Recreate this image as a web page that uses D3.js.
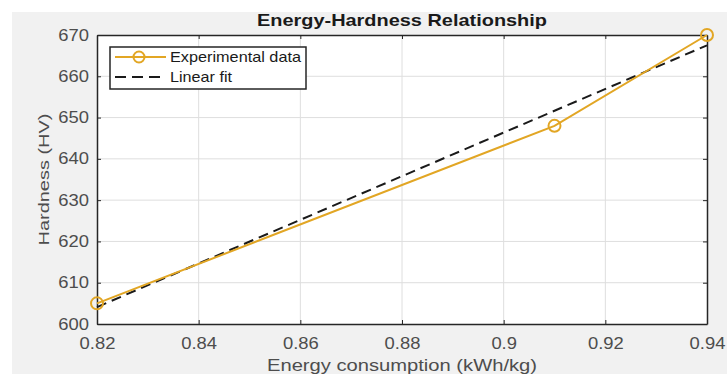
<!DOCTYPE html>
<html>
<head>
<meta charset="utf-8">
<script src="https://cdn.jsdelivr.net/npm/d3@7"></script>
<style>
	body { margin: 0; background: #fff; }
	svg { display: block; font-family: "Liberation Sans", Arial, sans-serif; }
</style>
</head>
<body>
<svg id="chart"></svg>
<script>
// values
const energy = [ 0.82, 0.91, 0.94 ] ;
const hardness = [ 605, 648, 670 ] ;
const fitEnergy = [ 0.82, 0.94 ] ;
const fitHardness = [ 604.1, 667.5 ] ;
const xTicks = [ 0.82, 0.84, 0.86, 0.88, 0.9, 0.92, 0.94 ] ;
const yTicks = [ 600, 610, 620, 630, 640, 650, 660, 670 ] ;
const seriesNames = [ 'Experimental data', 'Linear fit' ] ;

const geom = {
	width: 727,
	height: 374,
	margins: { left: 97, top: 35, right: 20, bottom: 50 }
} ;
const gold = '#e2a624' ;
const axisCol = '#262626' ;
const tickCol = '#4d4d4d' ;
// the reference glyphs are wider than Liberation Sans at the same height
const stretch = 1.15 ;

const x = d3.scaleLinear()
	.domain( [0.82, 0.94] )
	.range( [geom.margins.left, geom.width - geom.margins.right] ) ;
const y = d3.scaleLinear()
	.domain( [600, 670] )
	.range( [geom.height - geom.margins.bottom, geom.margins.top] ) ;

let svg = d3.select( '#chart' )
	.attr( 'width', geom.width )
	.attr( 'height', geom.height ) ;

// figure background
svg.append( 'rect' )
	.attr( 'x', 12 ).attr( 'y', 12 )
	.attr( 'width', geom.width - 12 ).attr( 'height', geom.height - 12 )
	.attr( 'fill', '#f1f1f1' ) ;

svg.append( 'rect' )
	.attr( 'x', x(0.82) ).attr( 'y', y(670) )
	.attr( 'width', x(0.94) - x(0.82) ).attr( 'height', y(600) - y(670) )
	.attr( 'fill', '#fff' ) ;

// grid
svg.selectAll( 'line.vertical' )
	.data( xTicks.slice(1, -1) )
	.enter()
	.append( 'line' )
	.attr( 'class', 'vertical' )
	.attr( 'x1', d => x(d) ).attr( 'x2', d => x(d) )
	.attr( 'y1', y(600) ).attr( 'y2', y(670) )
	.attr( 'stroke', '#dedede' ) ;

svg.selectAll( 'line.horizontal' )
	.data( yTicks.slice(1, -1) )
	.enter()
	.append( 'line' )
	.attr( 'class', 'horizontal' )
	.attr( 'x1', x(0.82) ).attr( 'x2', x(0.94) )
	.attr( 'y1', d => y(d) ).attr( 'y2', d => y(d) )
	.attr( 'stroke', '#dedede' ) ;

// axes, ticks inside, boxed
const fmt = d => String( +d.toFixed(2) ) ;
let axes = [
	[ d3.axisBottom(x).tickValues(xTicks).tickSizeInner(-4).tickSizeOuter(0).tickPadding(13.5).tickFormat(fmt), 'translate(0,' + y(600) + ')' ],
	[ d3.axisTop(x).tickValues(xTicks).tickSizeInner(-4).tickSizeOuter(0).tickFormat(''), 'translate(0,' + y(670) + ')' ],
	[ d3.axisLeft(y).tickValues(yTicks).tickSizeInner(-4).tickSizeOuter(0).tickPadding(7), 'translate(' + x(0.82) + ',0)' ],
	[ d3.axisRight(y).tickValues(yTicks).tickSizeInner(-4).tickSizeOuter(0).tickFormat(''), 'translate(' + x(0.94) + ',0)' ]
] ;
axes.forEach( ([ax, tr]) => {
	let g = svg.append( 'g' )
		.attr( 'transform', tr )
		.call( ax )
		.attr( 'font-size', '16px' )
		.attr( 'font-family', '"Liberation Sans", Arial, sans-serif' ) ;
	g.select( '.domain' ).attr( 'stroke', axisCol ).attr( 'stroke-width', 1.5 ) ;
	g.selectAll( '.tick line' ).attr( 'stroke', axisCol ) ;
	g.selectAll( '.tick text' )
		.attr( 'fill', tickCol )
		.attr( 'transform', 'scale(' + stretch + ',1)' ) ;
} ) ;

// data
let line = d3.line().x( d => x(d[0]) ).y( d => y(d[1]) ) ;

svg.append( 'path' )
	.datum( fitEnergy.map( (e, i) => [e, fitHardness[i]] ) )
	.attr( 'd', line )
	.attr( 'fill', 'none' )
	.attr( 'stroke', '#1a1a1a' )
	.attr( 'stroke-width', 2 )
	.attr( 'stroke-dasharray', '10,6' ) ;

let pts = energy.map( (e, i) => [e, hardness[i]] ) ;
svg.append( 'path' )
	.datum( pts )
	.attr( 'd', line )
	.attr( 'fill', 'none' )
	.attr( 'stroke', gold )
	.attr( 'stroke-width', 2 ) ;

svg.selectAll( 'circle.pt' )
	.data( pts )
	.enter()
	.append( 'circle' )
	.attr( 'class', 'pt' )
	.attr( 'cx', d => x(d[0]) )
	.attr( 'cy', d => y(d[1]) )
	.attr( 'r', 6 )
	.attr( 'fill', 'none' )
	.attr( 'stroke', gold )
	.attr( 'stroke-width', 2 ) ;

// title and labels
svg.append( 'text' )
	.attr( 'x', (x(0.82) + x(0.94)) / 2 )
	.attr( 'y', 26 )
	.attr( 'text-anchor', 'middle' )
	.attr( 'font-size', '17px' )
	.attr( 'font-weight', 'bold' )
	.attr( 'fill', '#1a1a1a' )
	.attr( 'textLength', 290 )
	.attr( 'lengthAdjust', 'spacingAndGlyphs' )
	.text( 'Energy-Hardness Relationship' ) ;

svg.append( 'text' )
	.attr( 'x', (x(0.82) + x(0.94)) / 2 )
	.attr( 'y', 371 )
	.attr( 'text-anchor', 'middle' )
	.attr( 'font-size', '16px' )
	.attr( 'fill', tickCol )
	.attr( 'textLength', 270 )
	.attr( 'lengthAdjust', 'spacingAndGlyphs' )
	.text( 'Energy consumption (kWh/kg)' ) ;

svg.append( 'text' )
	.attr( 'transform', 'translate(49,' + (y(600) + y(670)) / 2 + ') rotate(-90)' )
	.attr( 'text-anchor', 'middle' )
	.attr( 'font-size', '15.5px' )
	.attr( 'fill', tickCol )
	.attr( 'textLength', 132 )
	.attr( 'lengthAdjust', 'spacingAndGlyphs' )
	.text( 'Hardness (HV)' ) ;

// legend
const legendWidths = [ 131, 62 ] ;
let lg = svg.append( 'g' ).attr( 'transform', 'translate(110,47)' ) ;
lg.append( 'rect' )
	.attr( 'width', 196 ).attr( 'height', 42 )
	.attr( 'fill', '#fff' )
	.attr( 'stroke', axisCol )
	.attr( 'stroke-width', 1.5 ) ;
seriesNames.forEach( (name, i) => {
	let cy = 10 + i * 20 ;
	lg.append( 'line' )
		.attr( 'x1', 5 ).attr( 'x2', 56 )
		.attr( 'y1', cy ).attr( 'y2', cy )
		.attr( 'stroke', i == 0 ? gold : '#1a1a1a' )
		.attr( 'stroke-width', 2 )
		.attr( 'stroke-dasharray', i == 0 ? null : '11,6' ) ;
	if( i == 0 ) {
		lg.append( 'circle' )
			.attr( 'cx', 29 ).attr( 'cy', cy ).attr( 'r', 5.5 )
			.attr( 'fill', 'none' )
			.attr( 'stroke', gold )
			.attr( 'stroke-width', 2 ) ;
	}
	lg.append( 'text' )
		.attr( 'x', 60 ).attr( 'y', cy + 5.3 )
		.attr( 'font-size', '14.8px' )
		.attr( 'fill', '#1a1a1a' )
		.attr( 'textLength', legendWidths[i] )
		.attr( 'lengthAdjust', 'spacingAndGlyphs' )
		.text( name ) ;
} ) ;
</script>
</body>
</html>
